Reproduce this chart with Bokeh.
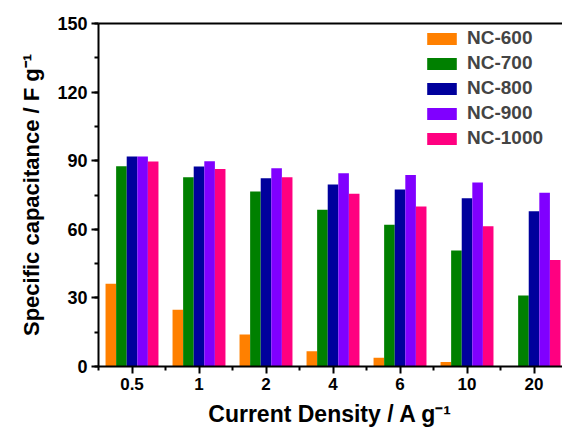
import numpy as np
from bokeh.plotting import figure
from bokeh.models import (Range1d, FixedTicker, LinearAxis, Legend, LegendItem,
                          ColumnDataSource)
from bokeh.embed import file_html
from bokeh.resources import INLINE

categories = ["0.5", "1", "2", "4", "6", "10", "20"]
series_names = ["NC-600", "NC-700", "NC-800", "NC-900", "NC-1000"]
nc600 = [36.2, 24.8, 14.0, 6.7, 3.8, 2.0, 0.0]
nc700 = [87.6, 82.8, 76.5, 68.5, 62.0, 50.7, 31.0]
nc800 = [91.8, 87.5, 82.3, 79.6, 77.4, 73.6, 67.9]
nc900 = [91.8, 89.8, 86.7, 84.5, 83.7, 80.5, 76.0]
nc1000 = [89.6, 86.4, 82.8, 75.5, 70.0, 61.3, 46.6]
colors = ["#FF8000", "#008000", "#00009C", "#8000FF", "#FF0080"]
y_ticks = [0, 30, 60, 90, 120, 150]

FONT = "Liberation Sans"

p = figure(width=562, height=432, output_backend="svg", toolbar_location=None,
           x_range=Range1d(0, 6.925), y_range=Range1d(0, 150),
           min_border_left=98, min_border_right=0, min_border_top=23,
           min_border_bottom=66)
p.outline_line_color = None
p.grid.visible = False
p.background_fill_color = "white"
p.border_fill_color = "white"

all_series = [nc600, nc700, nc800, nc900, nc1000]
bw = 0.158
centers = np.arange(len(categories)) + 0.5
items = []
for i, (name, vals, col) in enumerate(zip(series_names, all_series, colors)):
    src = ColumnDataSource(dict(x=centers + (i - 2) * bw, top=vals))
    r = p.vbar(x="x", top="top", width=bw, source=src, fill_color=col,
               line_color=None)
    items.append(LegendItem(label=name, renderers=[r]))

# X axis
xa = p.xaxis[0]
xa.ticker = FixedTicker(ticks=list(centers),
                        minor_ticks=list(np.arange(0, len(categories) + 1)))
xa.major_label_overrides = {float(c): lab for c, lab in zip(centers, categories)}
xa.axis_label = "Current Density / A g\u207b\u00b9"
xa.axis_label_text_font = FONT
xa.axis_label_text_font_style = "bold"
xa.axis_label_text_font_size = "23px"
xa.axis_label_standoff = 8
xa.major_label_text_font = FONT
xa.major_label_text_font_style = "bold"
xa.major_label_text_font_size = "17px"
xa.major_label_standoff = 4

# Y axis
ya = p.yaxis[0]
ya.ticker = FixedTicker(ticks=y_ticks, minor_ticks=list(range(0, 151, 15)))
ya.axis_label = "Specific capacitance / F g\u207b\u00b9"
ya.axis_label_text_font = FONT
ya.axis_label_text_font_style = "bold"
ya.axis_label_text_font_size = "22px"
ya.axis_label_standoff = 10
ya.major_label_text_font = FONT
ya.major_label_text_font_style = "bold"
ya.major_label_text_font_size = "18px"
ya.major_label_standoff = 4

for ax in (xa, ya):
    ax.axis_line_width = 2
    ax.axis_line_color = "black"
    ax.major_tick_line_width = 2
    ax.minor_tick_line_width = 2
    ax.major_tick_out = 7
    ax.major_tick_in = 0
    ax.minor_tick_out = 4
    ax.minor_tick_in = 0
    ax.major_label_text_color = "black"
    ax.axis_label_text_color = "black"

top_axis = LinearAxis(axis_line_width=2, ticker=FixedTicker(ticks=[], minor_ticks=[]),
                      major_tick_line_color=None, minor_tick_line_color=None)
p.add_layout(top_axis, "above")

legend = Legend(items=items, location=(325, 217), glyph_width=37, glyph_height=15,
                label_height=15, spacing=3, label_standoff=7, padding=0, margin=0,
                border_line_color=None, background_fill_alpha=0,
                label_text_font=FONT, label_text_font_style="bold",
                label_text_font_size="19px")
p.add_layout(legend)

open("out.html", "w").write(file_html(p, INLINE))
